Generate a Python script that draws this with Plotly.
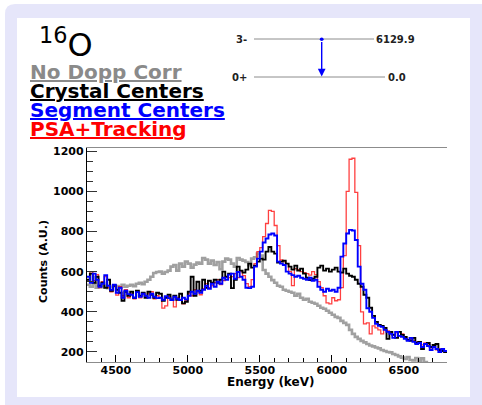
import plotly.graph_objects as go

# ---------------- data ----------------
bin_start_keV = 4300
bin_width_keV = 20
bin_stop_keV = 6800

no_dopp_corr = [
    535, 525, 540, 520, 528,   522, 530, 518, 525, 532,
    528, 520, 535, 525, 530,   535, 528, 540, 545, 538,
    550, 560, 575, 593, 598,   600, 590, 598, 605, 625,
    633, 605, 640, 625, 650,   640, 620, 635, 645, 640,
    668, 660, 640, 655, 633,   648, 612, 650, 665, 660,
    640, 625, 668, 660, 655,   648, 632, 665, 672, 690,
    680, 608, 590, 575, 558,   545, 530, 525, 510, 505,
    500, 495, 480, 490, 470,   460, 465, 450, 445, 440,
    430, 420, 415, 405, 395,   385, 375, 370, 355, 345,
    335, 310, 290, 275, 265,   255, 248, 240, 232, 228,
    222, 218, 210, 205, 200,   198, 190, 185, 178, 172,
    165, 175, 160, 158, 170,   155, 168, 150, 140, 135,
    130, 135, 130, 125, 130,
]
crystal_centers = [
    560, 590, 545, 575, 530,   545, 520, 560, 505, 530,
    510, 495, 455, 500, 480,   500, 470, 505, 480, 495,
    470, 500, 485, 470, 495,   490, 455, 470, 485, 460,
    480, 460, 490, 442, 450,   500, 575, 480, 550, 505,
    560, 520, 555, 545, 560,   545, 560, 600, 575, 590,
    518, 560, 625, 605, 595,   610, 640, 620, 630, 650,
    665, 660, 700, 723, 700,   690, 645, 650, 655, 640,
    625, 610, 630, 605, 615,   590, 570, 558, 565, 575,
    620, 630, 605, 615, 600,   610, 620, 600, 595, 615,
    590, 580, 575, 560, 540,   525, 485, 470, 420, 380,
    350, 335, 330, 320, 265,   300, 285, 270, 300, 285,
    275, 260, 255, 270, 245,   250, 215, 240, 245, 225,
    235, 240, 210, 205, 200,
]
segment_centers = [
    575, 545, 590, 560, 525,   540, 583, 530, 510, 535,
    495, 520, 470, 505, 488,   485, 470, 498, 475, 490,
    480, 470, 490, 475, 468,   470, 460, 478, 468, 458,
    475, 465, 458, 470, 462,   480, 500, 490, 505, 495,
    510, 530, 515, 540, 525,   550, 540, 570, 560, 585,
    590, 565, 598, 575, 560,   520, 518, 525, 625, 665,
    700, 745, 765, 785, 790,   780, 650, 640, 633, 600,
    590, 583, 575, 580, 570,   565, 560, 570, 555, 560,
    525, 510, 500, 515, 505,   510, 500, 520, 675, 740,
    790, 808, 805, 758, 625,   540, 510, 418, 400, 370,
    340, 330, 325, 310, 300,   290, 270, 300, 280, 275,
    265, 255, 270, 250, 240,   245, 225, 240, 230, 210,
    225, 215, 200, 215, 205,
]
psa_tracking = [
    560, 600, 555, 585, 520,   550, 575, 520, 500, 530,
    483, 525, 480, 510, 470,   490, 465, 505, 470, 495,
    475, 490, 500, 465, 480,   470, 418, 430, 475, 462,
    425, 470, 460, 440, 455,   490, 480, 510, 500, 485,
    515, 540, 520, 530, 545,   560, 535, 555, 575, 570,
    575, 590, 570, 600, 580,   540, 525, 560, 640, 700,
    720, 775, 840, 905, 900,   830, 730, 658, 650, 640,
    600, 530, 615, 610, 600,   595, 590, 583, 600, 585,
    550, 520, 480, 445, 440,   470, 455, 460, 520, 680,
    1000, 1160, 1165, 995, 730, 400, 340, 345, 290, 330,
    320, 310, 290, 320, 305,   300, 285, 295, 280, 290,
    270, 260, 265, 255, 250,   250, 235, 245, 235, 220,
    230, 210, 215, 205, 200,
]

series_names = ["No Dopp Corr", "Crystal Centers", "Segment Centers", "PSA+Tracking"]
x_tick_values = [4500, 5000, 5500, 6000, 6500]
y_tick_values = [200, 400, 600, 800, 1000, 1200]
level_spins = ["3-", "0+"]
level_energies = ["6129.9", "0.0"]

# ---------------- figure ----------------
W, H = 482, 405
ML, MR, MT, MB = 87, 35, 148, 43
PW, PH = W - ML - MR, H - MT - MB


def PX(x):
    return (x - ML) / PW


def PY(y):
    return (H - MB - y) / PH


edges = list(range(bin_start_keV, bin_stop_keV, bin_width_keV))


def step_trace(vals, color, width, name):
    return go.Scatter(
        x=edges + [bin_stop_keV], y=vals + [vals[-1]], mode="lines",
        line=dict(shape="hv", color=color, width=width), name=name,
        showlegend=False, hoverinfo="skip")


fig = go.Figure()
fig.add_trace(step_trace(no_dopp_corr, "rgba(150,150,150,0.9)", 2.6, series_names[0]))
fig.add_trace(step_trace(psa_tracking, "rgba(255,0,0,0.75)", 1.3, series_names[3]))
fig.add_trace(step_trace(crystal_centers, "#000000", 1.9, series_names[1]))
fig.add_trace(step_trace(segment_centers, "#0000ff", 1.9, series_names[2]))

BF = "DejaVu Sans"


def rounded_rect(x0, y0, x1, y1, r):
    X0, X1 = PX(x0), PX(x1)
    Y0, Y1 = PY(y0), PY(y1)
    rx, ry = r / PW, r / PH
    return (f"M {X0+rx},{Y0} L {X1-rx},{Y0} Q {X1},{Y0} {X1},{Y0-ry} "
            f"L {X1},{Y1+ry} Q {X1},{Y1} {X1-rx},{Y1} L {X0+rx},{Y1} "
            f"Q {X0},{Y1} {X0},{Y1+ry} L {X0},{Y0-ry} Q {X0},{Y0} {X0+rx},{Y0} Z")


shapes = [
    dict(type="path", xref="paper", yref="paper", layer="below",
         path=rounded_rect(5, 4, 490, 420, 10), fillcolor="#e6e6fa", line=dict(width=0)),
    dict(type="rect", xref="paper", yref="paper", layer="below",
         x0=PX(17), x1=PX(470), y0=PY(397), y1=PY(18), fillcolor="white", line=dict(width=0)),
    # level lines
    dict(type="line", xref="paper", yref="paper", x0=PX(254), x1=PX(374), y0=PY(39), y1=PY(39),
         line=dict(color="#8c8c8c", width=1)),
    dict(type="line", xref="paper", yref="paper", x0=PX(254), x1=PX(385), y0=PY(77), y1=PY(77),
         line=dict(color="#8c8c8c", width=1)),
    dict(type="circle", xref="paper", yref="paper", x0=PX(319.8), x1=PX(323.6),
         y0=PY(41), y1=PY(37.5), fillcolor="#0000ff", line=dict(width=0)),
]

LF = 20
annotations = [
    dict(text="<sup>16</sup>O", x=PX(37), y=PY(43), xanchor="left", yanchor="middle",
         font=dict(family=BF, size=32, color="black")),
    dict(text=series_names[0], x=PX(28), y=PY(72), xanchor="left", yanchor="middle",
         font=dict(family=BF, size=LF, color="#8a8a8a", weight="bold", lineposition="under")),
    dict(text=series_names[1], x=PX(28), y=PY(91), xanchor="left", yanchor="middle",
         font=dict(family=BF, size=LF, color="black", weight="bold", lineposition="under")),
    dict(text=series_names[2], x=PX(28), y=PY(110), xanchor="left", yanchor="middle",
         font=dict(family=BF, size=LF, color="#0000ff", weight="bold", lineposition="under")),
    dict(text=series_names[3], x=PX(28), y=PY(129), xanchor="left", yanchor="middle",
         font=dict(family=BF, size=LF, color="#ff0000", weight="bold", lineposition="under")),
    dict(text=level_spins[0], x=PX(249), y=PY(40), xanchor="right", yanchor="middle",
         font=dict(family=BF, size=10, color="#222", weight="bold")),
    dict(text=level_spins[1], x=PX(249), y=PY(77), xanchor="right", yanchor="middle",
         font=dict(family=BF, size=10, color="#222", weight="bold")),
    dict(text=level_energies[0], x=PX(374), y=PY(40), xanchor="left", yanchor="middle",
         font=dict(family=BF, size=10, color="#222", weight="bold")),
    dict(text=level_energies[1], x=PX(386), y=PY(77), xanchor="left", yanchor="middle",
         font=dict(family=BF, size=10, color="#222", weight="bold")),
    dict(text="", x=PX(321.7), y=PY(76.5), showarrow=True, ax=0, ay=-36,
         arrowhead=2, arrowsize=1.1, arrowwidth=1.4, arrowcolor="#0000ff", standoff=0),
    dict(text="Energy (keV)", x=PX(270), y=PY(382), xanchor="center", yanchor="middle",
         font=dict(family=BF, size=12, color="black", weight="bold")),
    dict(text="Counts (A.U.)", x=PX(43), y=PY(262), xanchor="center", yanchor="middle",
         textangle=-90, font=dict(family=BF, size=11, color="black", weight="bold")),
]
for a in annotations:
    a.setdefault("xref", "paper")
    a.setdefault("yref", "paper")
    a.setdefault("showarrow", False)

fig.update_layout(
    width=W, height=H, margin=dict(l=ML, r=MR, t=MT, b=MB, pad=0),
    paper_bgcolor="white", plot_bgcolor="white",
    shapes=shapes, annotations=annotations, showlegend=False,
    xaxis=dict(range=[4300, 6800], tickvals=x_tick_values, ticks="inside", ticklen=7,
               tickwidth=1, tickcolor="black", showline=True, linecolor="#8c8c8c",
               linewidth=1.2, mirror=True, showgrid=False, zeroline=False,
               ticklabelstandoff=-2,
               minor=dict(dtick=100, ticks="inside", ticklen=4, tickcolor="black", showgrid=False),
               tickfont=dict(family=BF, size=11, color="black", weight="bold")),
    yaxis=dict(range=[150, 1216], tickvals=y_tick_values, ticks="inside", ticklen=10,
               tickwidth=1, tickcolor="#333", showline=True, linecolor="black",
               linewidth=1.2, showgrid=False, zeroline=False,
               minor=dict(dtick=50, ticks="inside", ticklen=6, tickcolor="#333", showgrid=False),
               tickfont=dict(family=BF, size=11, color="black", weight="bold")),
)

fig.write_html(
    "out.html",
    config={"displayModeBar": False},
    post_script="document.body.style.margin='0';document.body.style.overflow='hidden';",
)
